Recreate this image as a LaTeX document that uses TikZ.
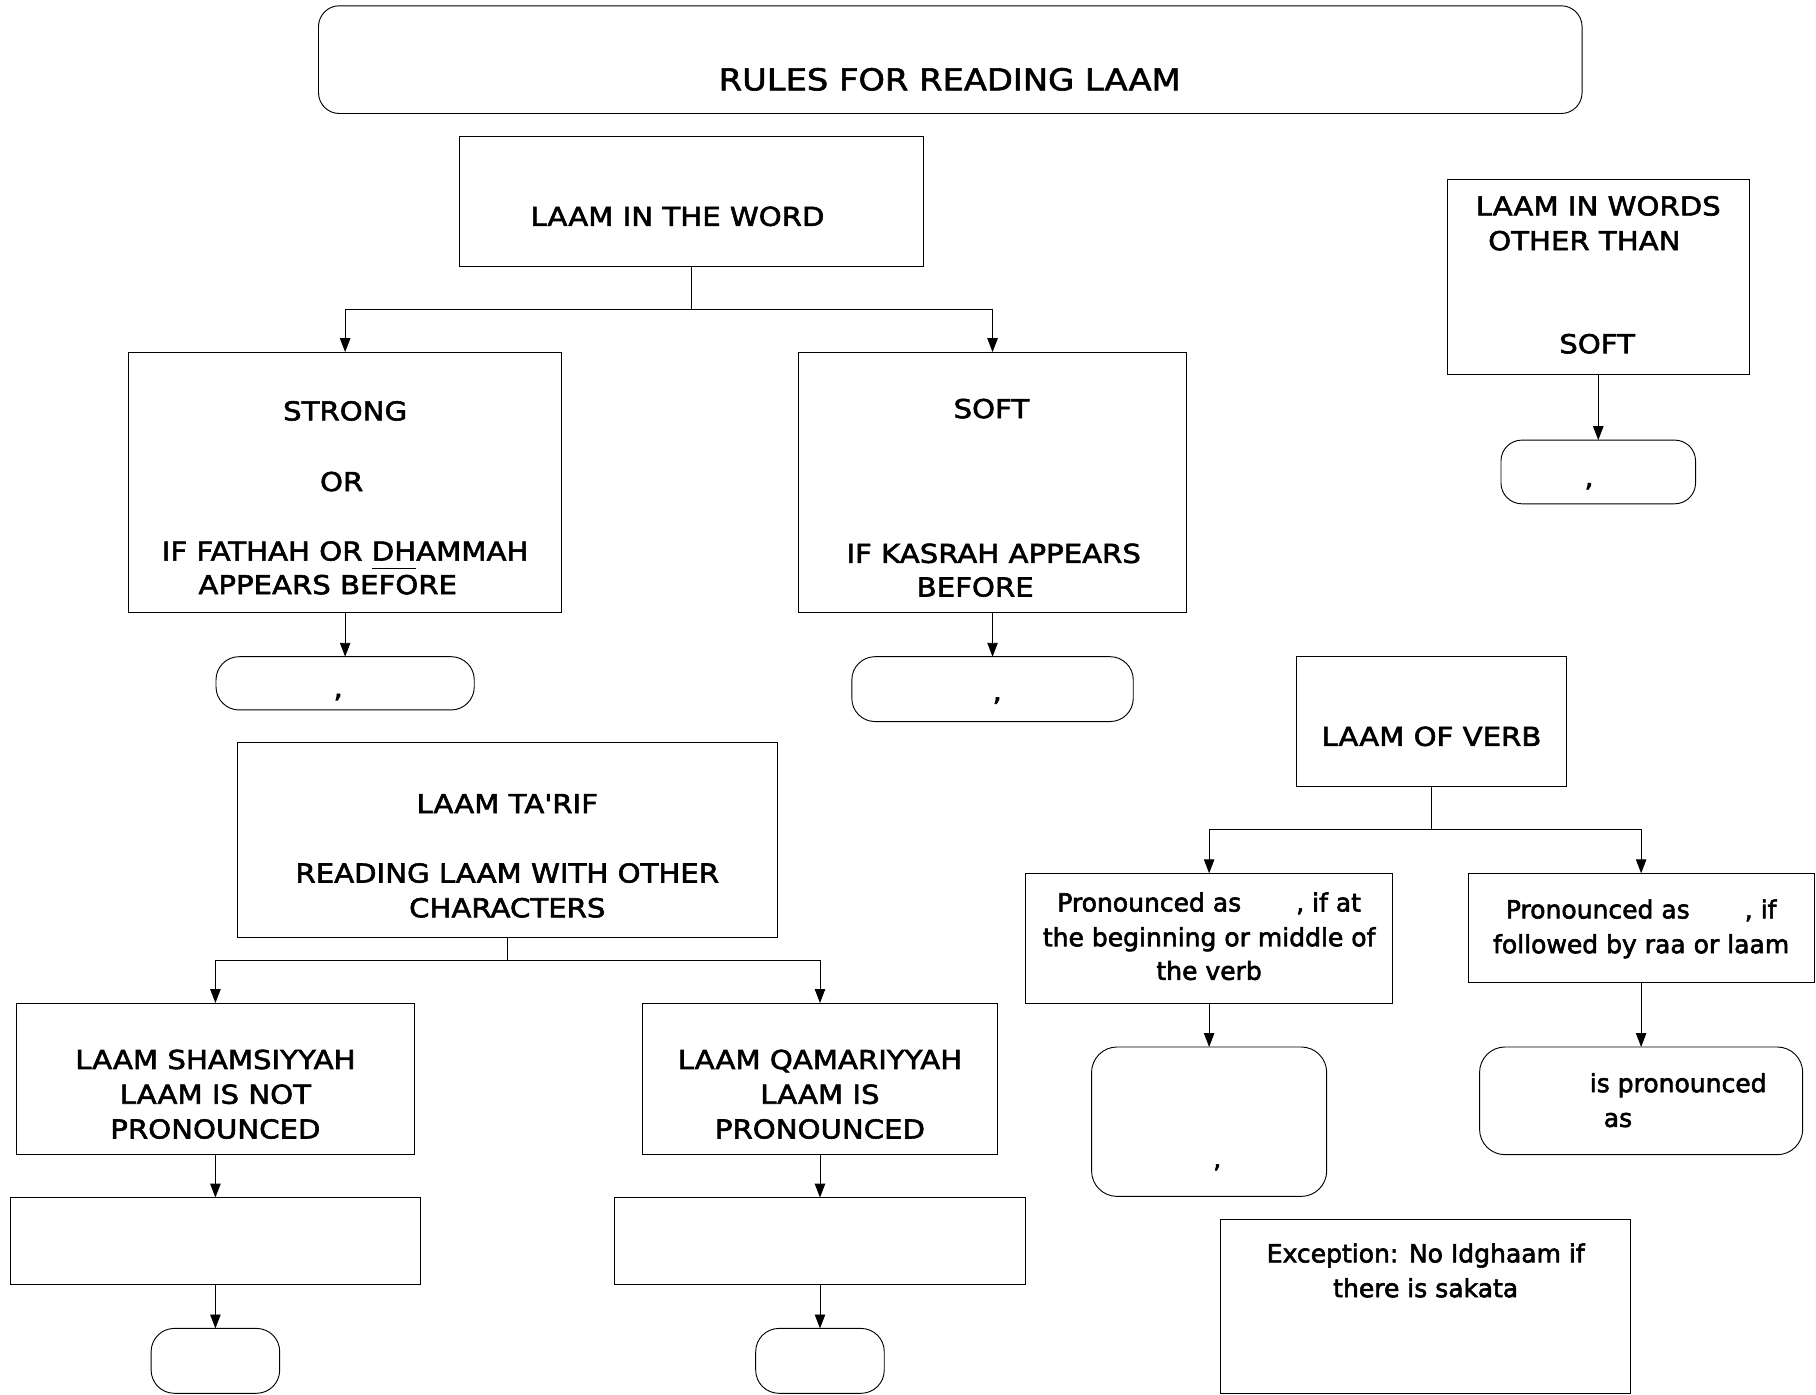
\documentclass[tikz,border=0pt]{standalone}
\usepackage{fontspec}
\setmainfont{DejaVu Sans}
\newfontfamily\capsfont{DejaVu Sans}[FakeStretch=1.12]
\usetikzlibrary{arrows.meta}
\newlength\barlen
\newcommand\underbarred[1]{\settowidth\barlen{#1}\rlap{\rule[-7pt]{\barlen}{0.8pt}}#1}
% text drawn filled and outlined, for a slightly heavier weight
\newcommand\heavyon{\special{pdf:literal direct 2 Tr 0.5 w}}
\newcommand\heavyoff{\special{pdf:literal direct 0 Tr}}
\begin{document}
\begin{tikzpicture}[x=1pt,y=-1pt,
  box/.style={draw, rectangle, line width=0.8pt, inner sep=0pt, outer sep=0pt},
  rbox/.style={box, rounded corners=#1},
  heavy/.style={execute at begin node=\heavyon, execute at end node=\heavyoff},
  lbl/.style={heavy, font=\capsfont\fontsize{22.5}{26}\selectfont, inner sep=0pt, anchor=base},
  txt/.style={heavy, font=\fontsize{21.6}{26}\selectfont, inner sep=0pt, anchor=base},
  ttl/.style={heavy, font=\capsfont\fontsize{26}{30}\selectfont, inner sep=0pt, anchor=base},
  link/.style={line width=0.8pt},
  arr/.style={line width=0.8pt, -{Triangle[length=12pt,width=9pt]}}]
\useasboundingbox (0,0) rectangle (1568,1204);

% title
\node[rbox=18pt, minimum width=1091pt, minimum height=93pt] (title) at (820.5,51.5) {};
\node[ttl] (titletxt) at (820,78) {RULES FOR READING LAAM};

% laam in the word
\node[box, minimum width=401pt, minimum height=112pt] (word) at (597,174) {};
\node[lbl] (wordtxt) at (585,195) {LAAM IN THE WORD};

\node[box, minimum width=374pt, minimum height=225pt] (strong) at (298,416.5) {};
\node[lbl] (st1) at (298,363) {STRONG};
\node[lbl] (st2) at (295,424) {OR};
\node[lbl] (st3) at (298,484) {IF FATHAH OR \underbarred{DH}AMMAH};
\node[lbl] (st4) at (283,513) {APPEARS BEFORE};

\node[box, minimum width=335pt, minimum height=225pt] (soft) at (857,416.5) {};
\node[lbl] (sf1) at (856,361) {SOFT};
\node[lbl] (sf2) at (858,486) {IF KASRAH APPEARS};
\node[lbl] (sf3) at (842,515) {BEFORE};

\coordinate (wordj) at (597,267);
\draw[link] (word.south) -- (wordj);
\draw[arr] (wordj) -| (strong.north);
\draw[arr] (wordj) -| (soft.north);

\node[rbox=20pt, minimum width=223pt, minimum height=46pt] (strongres) at (298,590) {};
\node[lbl] (sr) at (292,602) {,};
\draw[arr] (strong.south) -- (strongres.north);

\node[rbox=20pt, minimum width=243pt, minimum height=56pt] (softres) at (857,595) {};
\node[lbl] (sfr) at (861,605) {,};
\draw[arr] (soft.south) -- (softres.north);

% laam in other words
\node[box, minimum width=261pt, minimum height=168pt] (other) at (1380,239) {};
\node[lbl] (ot1) at (1380,186) {LAAM IN WORDS};
\node[lbl] (ot2) at (1368,216) {OTHER THAN};
\node[lbl] (ot3) at (1379,305) {SOFT};
\node[rbox=18pt, minimum width=168pt, minimum height=55pt] (otherres) at (1380,407.5) {};
\node[lbl] (otr) at (1372,420) {,};
\draw[arr] (other.south) -- (otherres.north);

% laam of verb
\node[box, minimum width=233pt, minimum height=112pt] (verb) at (1236,623) {};
\node[lbl] (vb) at (1236,644) {LAAM OF VERB};

\node[box, minimum width=317pt, minimum height=112pt] (pronA) at (1044,810) {};
\node[txt] (pa1) at (1044,787) {Pronounced as\hspace{2.2em}, if at};
\node[txt] (pa2) at (1044,817) {the beginning or middle of};
\node[txt] (pa3) at (1044,846) {the verb};

\node[box, minimum width=299pt, minimum height=94pt] (pronB) at (1417,801) {};
\node[txt] (pb1) at (1417,793) {Pronounced as\hspace{2.2em}, if};
\node[txt] (pb2) at (1417,823) {followed by raa or laam};

\coordinate (verbj) at (1236,716);
\draw[link] (verb.south) -- (verbj);
\draw[arr] (verbj) -| (pronA.north);
\draw[arr] (verbj) -| (pronB.north);

\node[rbox=22pt, minimum width=203pt, minimum height=129pt] (pronAres) at (1044,968.5) {};
\node[txt] (par) at (1051,1008) {,};
\draw[arr] (pronA.south) -- (pronAres.north);

\node[rbox=22pt, minimum width=279pt, minimum height=93pt] (pronBres) at (1417,950.5) {};
\node[txt] (pbr1) at (1449,943) {is pronounced};
\node[txt] (pbr2) at (1397,973) {as};
\draw[arr] (pronB.south) -- (pronBres.north);

\node[box, minimum width=354pt, minimum height=150pt] (except) at (1231,1128) {};
\node[txt] (ex1) at (1231,1090) {Exception: No Idghaam if};
\node[txt] (ex2) at (1231,1120) {there is sakata};

% laam ta'rif
\node[box, minimum width=466pt, minimum height=168pt] (tarif) at (438,725) {};
\node[lbl] (tr1) at (438,702) {LAAM TA\symbol{39}RIF};
\node[lbl] (tr2) at (438,762) {READING LAAM WITH OTHER};
\node[lbl] (tr3) at (438,792) {CHARACTERS};

\node[box, minimum width=344pt, minimum height=131pt] (shams) at (186,931.5) {};
\node[lbl] (sh1) at (186,923) {LAAM SHAMSIYYAH};
\node[lbl] (sh2) at (186,953) {LAAM IS NOT};
\node[lbl] (sh3) at (186,983) {PRONOUNCED};

\node[box, minimum width=307pt, minimum height=131pt] (qamar) at (708,931.5) {};
\node[lbl] (qm1) at (708,923) {LAAM QAMARIYYAH};
\node[lbl] (qm2) at (708,953) {LAAM IS};
\node[lbl] (qm3) at (708,983) {PRONOUNCED};

\coordinate (tarifj) at (438,829);
\draw[link] (tarif.south) -- (tarifj);
\draw[arr] (tarifj) -| (shams.north);
\draw[arr] (tarifj) -| (qamar.north);

\node[box, minimum width=354pt, minimum height=75pt] (shamsex) at (186,1071.5) {};
\node[box, minimum width=355pt, minimum height=75pt] (qamarex) at (708,1071.5) {};
\draw[arr] (shams.south) -- (shamsex.north);
\draw[arr] (qamar.south) -- (qamarex.north);

\node[rbox=20pt, minimum width=111pt, minimum height=56pt] (shamsres) at (186,1175) {};
\node[rbox=20pt, minimum width=111pt, minimum height=56pt] (qamarres) at (708,1175) {};
\draw[arr] (shamsex.south) -- (shamsres.north);
\draw[arr] (qamarex.south) -- (qamarres.north);
\end{tikzpicture}
\end{document}
